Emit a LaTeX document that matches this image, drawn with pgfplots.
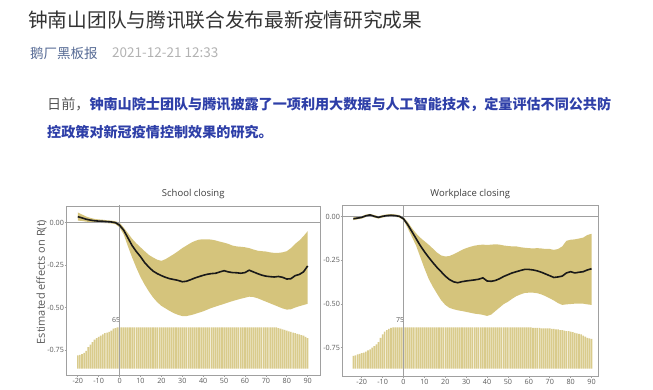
\documentclass[border=0pt]{standalone}
\usepackage{pgfplots}
\usepackage{pgfplotstable}
\pgfplotsset{compat=1.18}
\usepgfplotslibrary{fillbetween}
\usepackage{fontspec}
\setmainfont{Open Sans}
\newfontfamily\cjk{Noto Sans CJK SC}
\definecolor{titlec}{HTML}{333333}
\definecolor{srcc}{HTML}{576B95}
\definecolor{datec}{HTML}{B2B2B2}
\definecolor{parag}{HTML}{555555}
\definecolor{parab}{HTML}{2E3FA8}
\definecolor{bandc}{HTML}{D5C47C}
\definecolor{barc}{HTML}{D9CB8C}
\definecolor{axc}{HTML}{A0A0A0}
\definecolor{tickc}{HTML}{5A5A5A}
\definecolor{titc}{HTML}{3C3C3C}

\pgfplotstableread{
x up mid lo
-20 0.060 0.035 0.012
-18 0.048 0.028 0.010
-16 0.036 0.020 0.006
-14 0.028 0.015 0.003
-12 0.022 0.011 0.001
-10 0.019 0.009 -0.001
-8 0.017 0.008 -0.002
-6 0.014 0.006 -0.003
-4 0.012 0.004 -0.005
-2 0.008 0.000 -0.009
0 0.000 -0.015 -0.028
2 -0.030 -0.045 -0.070
4 -0.062 -0.090 -0.140
6 -0.095 -0.135 -0.205
8 -0.122 -0.170 -0.265
10 -0.145 -0.200 -0.320
12 -0.168 -0.235 -0.365
14 -0.190 -0.262 -0.405
16 -0.205 -0.285 -0.440
18 -0.218 -0.300 -0.468
20 -0.225 -0.312 -0.490
22 -0.215 -0.322 -0.505
24 -0.200 -0.330 -0.520
26 -0.185 -0.335 -0.533
28 -0.168 -0.340 -0.543
30 -0.150 -0.348 -0.550
32 -0.135 -0.345 -0.550
34 -0.120 -0.336 -0.545
36 -0.108 -0.326 -0.538
38 -0.100 -0.318 -0.530
40 -0.098 -0.310 -0.522
42 -0.098 -0.304 -0.512
44 -0.100 -0.300 -0.502
46 -0.105 -0.298 -0.494
48 -0.112 -0.290 -0.486
50 -0.118 -0.283 -0.478
52 -0.125 -0.290 -0.470
54 -0.135 -0.294 -0.462
56 -0.140 -0.295 -0.455
58 -0.142 -0.298 -0.448
60 -0.145 -0.294 -0.442
62 -0.150 -0.280 -0.436
64 -0.158 -0.290 -0.438
66 -0.165 -0.300 -0.445
68 -0.168 -0.309 -0.455
70 -0.170 -0.315 -0.465
72 -0.175 -0.318 -0.475
74 -0.178 -0.320 -0.485
76 -0.178 -0.317 -0.495
78 -0.175 -0.322 -0.505
80 -0.168 -0.332 -0.512
82 -0.150 -0.330 -0.510
84 -0.125 -0.312 -0.500
86 -0.105 -0.305 -0.492
88 -0.080 -0.290 -0.485
90 -0.050 -0.255 -0.478
}\leftdata

\pgfplotstableread{
x up mid lo
-24 -0.004 -0.012 -0.020
-22 -0.001 -0.008 -0.015
-20 0.003 -0.004 -0.011
-18 0.012 0.005 -0.002
-16 0.016 0.010 0.002
-14 0.009 0.002 -0.005
-12 0.003 -0.004 -0.011
-10 0.009 0.002 -0.005
-8 0.013 0.006 -0.001
-6 0.015 0.008 0.001
-4 0.013 0.006 -0.001
-2 0.009 0.002 -0.005
0 -0.004 -0.012 -0.020
2 -0.030 -0.045 -0.065
4 -0.065 -0.085 -0.115
6 -0.095 -0.125 -0.165
8 -0.120 -0.165 -0.230
10 -0.140 -0.200 -0.295
12 -0.160 -0.232 -0.355
14 -0.182 -0.262 -0.400
16 -0.205 -0.290 -0.440
18 -0.222 -0.315 -0.478
20 -0.228 -0.340 -0.505
22 -0.225 -0.360 -0.522
24 -0.215 -0.373 -0.530
26 -0.203 -0.378 -0.536
28 -0.190 -0.372 -0.540
30 -0.180 -0.368 -0.545
32 -0.172 -0.365 -0.550
34 -0.166 -0.362 -0.555
36 -0.162 -0.358 -0.558
38 -0.160 -0.350 -0.562
40 -0.162 -0.368 -0.568
42 -0.160 -0.370 -0.560
44 -0.158 -0.365 -0.540
46 -0.160 -0.355 -0.520
48 -0.165 -0.342 -0.500
50 -0.168 -0.332 -0.487
52 -0.170 -0.322 -0.470
54 -0.170 -0.315 -0.455
56 -0.175 -0.308 -0.445
58 -0.178 -0.302 -0.437
60 -0.180 -0.302 -0.435
62 -0.182 -0.305 -0.435
64 -0.180 -0.310 -0.438
66 -0.182 -0.318 -0.445
68 -0.185 -0.328 -0.455
70 -0.185 -0.338 -0.467
72 -0.190 -0.348 -0.480
74 -0.185 -0.345 -0.495
76 -0.170 -0.340 -0.505
78 -0.138 -0.322 -0.502
80 -0.132 -0.315 -0.500
82 -0.130 -0.322 -0.498
84 -0.125 -0.318 -0.497
86 -0.120 -0.315 -0.498
88 -0.105 -0.305 -0.502
90 -0.098 -0.298 -0.505
}\rightdata

\pgfplotsset{
  mainax/.style={
    scale only axis, clip=true,
    tick pos=left, tick align=outside, major tick length=1.8pt,
    axis line style={draw=axc, line width=0.7pt},
    tick style={draw=axc, line width=0.6pt},
    ticklabel style={font=\fontsize{7.2}{8}\selectfont, text=tickc},
    xticklabel style={inner sep=1.2pt},
    yticklabel style={inner sep=0.6pt},
    xtick={-20,-10,0,10,20,30,40,50,60,70,80,90},
    xticklabels={-20,-10,0,10,20,30,40,50,60,70,80,90},
    ytick={-0.75,-0.5,-0.25,0},
    yticklabels={-0.75,-0.50,-0.25,0.00},
    title style={font=\fontsize{9.5}{10}\selectfont, text=titc, inner sep=0.6pt},
  },
  barax/.style={scale only axis, hide axis, clip=true},
}

\begin{document}
\begin{tikzpicture}
% ---- header text ----
\node[anchor=west, inner sep=0pt, text=titlec] at (28pt,369pt)
  {\cjk\fontsize{19.7}{22}\selectfont 钟南山团队与腾讯联合发布最新疫情研究成果};
\node[anchor=west, inner sep=0pt, text=srcc] at (30pt,336pt)
  {\cjk\fontsize{13.5}{15}\selectfont 鹅厂黑板报};
\node[anchor=west, inner sep=0pt, text=datec] at (112pt,336pt)
  {\cjk\fontsize{13.5}{15}\selectfont 2021-12-21 12:33};
\node[anchor=west, inner sep=0pt] at (47pt,285pt)
  {\cjk\fontsize{14.1}{16}\selectfont\textcolor{parag}{日前，}{\bfseries\color{parab}钟南山院士团队与腾讯披露了一项利用大数据与人工智能技术，定量评估不同公共防}};
\node[anchor=west, inner sep=0pt] at (47pt,257pt)
  {\cjk\fontsize{14.1}{16}\selectfont\bfseries\color{parab}控政策对新冠疫情控制效果的研究。};

% ---- left chart: bars (region counts) ----
\begin{axis}[barax, at={(66.5pt,14pt)}, anchor=south west, width=253.5pt, height=169pt,
  xmin=-25.4, xmax=95.9, ymin=-9.9, ymax=256.3]
\addplot[ybar, bar width=0.75, fill=barc, draw=none] coordinates {
(-20,21)(-19,22)(-18,23)(-17,25)(-16,28)(-15,34)(-14,38)(-13,42)(-12,46)(-11,48)
(-10,50)(-9,52)(-8,54)(-7,56)(-6,57)(-5,58)(-4,60)(-3,63)(-2,64)(-1,65)
(0,65)(1,65)(2,65)(3,65)(4,65)(5,65)(6,65)(7,65)(8,65)(9,65)
(10,65)(11,65)(12,65)(13,65)(14,65)(15,65)(16,65)(17,65)(18,65)(19,65)
(20,65)(21,65)(22,65)(23,65)(24,65)(25,65)(26,65)(27,65)(28,65)(29,65)
(30,65)(31,65)(32,65)(33,65)(34,65)(35,65)(36,65)(37,65)(38,65)(39,65)
(40,65)(41,65)(42,65)(43,65)(44,65)(45,65)(46,65)(47,65)(48,65)(49,65)
(50,65)(51,65)(52,65)(53,65)(54,65)(55,65)(56,65)(57,65)(58,65)(59,65)
(60,65)(61,65)(62,65)(63,65)(64,65)(65,65)(66,65)(67,65)(68,65)(69,65)
(70,65)(71,65)(72,65)(73,65)(74,65)(75,65)(76,64)(77,63)(78,62)(79,61)
(80,60)(81,59)(82,58)(83,57)(84,56)(85,55)(86,54)(87,53)(88,52)(89,50)(90,48)
};
\node[anchor=south east, inner sep=0pt, font=\fontsize{7}{8}\selectfont, text=tickc] at (axis cs:0.4,72) {65};
\end{axis}

% ---- left chart: main ----
\begin{axis}[mainax, at={(66.5pt,14pt)}, anchor=south west, width=253.5pt, height=169pt,
  xmin=-25.4, xmax=95.9, ymin=-0.897, ymax=0.098,
  title={School closing},
  ylabel={Estimated effects on R(t)},
  ylabel style={font=\fontsize{11}{12}\selectfont, text=tickc, at={(axis description cs:-0.098,0.55)}, anchor=center}]
\addplot[axc, line width=0.6pt] coordinates {(0,-1) (0,1)};
\addplot[axc, line width=0.6pt] coordinates {(-40,0) (120,0)};
\addplot[name path=lup, draw=none] table[x=x, y=up] {\leftdata};
\addplot[name path=llo, draw=none] table[x=x, y=lo] {\leftdata};
\addplot[bandc, draw=none] fill between[of=lup and llo];
\addplot[black!90, line width=1.6pt] table[x=x, y=mid] {\leftdata};
\end{axis}

% ---- right chart: bars ----
\begin{axis}[barax, at={(342.5pt,13pt)}, anchor=south west, width=255.5pt, height=170.5pt,
  xmin=-29.2, xmax=93.1, ymin=-13.3, ymax=295.6]
\addplot[ybar, bar width=0.75, fill=barc, draw=none] coordinates {
(-24,23)(-23,24)(-22,26)(-21,27)(-20,28)(-19,29)(-18,31)(-17,33)(-16,35)(-15,38)
(-14,41)(-13,44)(-12,48)(-11,56)(-10,62)(-9,67)(-8,70)(-7,72)(-6,74)
(-5,75)(-4,75)(-3,75)(-2,75)(-1,75)
(0,75)(1,75)(2,75)(3,75)(4,75)(5,75)(6,75)(7,75)(8,75)(9,75)
(10,75)(11,75)(12,75)(13,75)(14,75)(15,75)(16,75)(17,75)(18,75)(19,75)
(20,75)(21,75)(22,75)(23,75)(24,75)(25,75)(26,75)(27,75)(28,75)(29,75)
(30,75)(31,75)(32,75)(33,75)(34,75)(35,75)(36,75)(37,75)(38,75)(39,75)
(40,75)(41,75)(42,75)(43,75)(44,75)(45,75)(46,75)(47,75)(48,75)(49,75)
(50,75)(51,75)(52,75)(53,75)(54,75)(55,75)(56,75)(57,75)(58,75)(59,75)
(60,75)(61,75)(62,74)(63,74)(64,74)(65,74)(66,73)(67,73)(68,73)(69,73)
(70,73)(71,72)(72,72)(73,71)(74,71)(75,70)(76,70)(77,69)(78,68)(79,68)
(80,67)(81,66)(82,65)(83,64)(84,63)(85,62)(86,60)(87,58)(88,56)(89,55)(90,54)
};
\node[anchor=south east, inner sep=0pt, font=\fontsize{7}{8}\selectfont, text=tickc] at (axis cs:0.4,83) {75};
\end{axis}

% ---- right chart: main ----
\begin{axis}[mainax, at={(342.5pt,13pt)}, anchor=south west, width=255.5pt, height=170.5pt,
  xmin=-29.2, xmax=93.1, ymin=-0.912, ymax=0.064,
  title={Workplace closing}]
\addplot[axc, line width=0.6pt] coordinates {(0,-1) (0,1)};
\addplot[axc, line width=0.6pt] coordinates {(-40,0) (120,0)};
\addplot[name path=rup, draw=none] table[x=x, y=up] {\rightdata};
\addplot[name path=rlo, draw=none] table[x=x, y=lo] {\rightdata};
\addplot[bandc, draw=none] fill between[of=rup and rlo];
\addplot[black!90, line width=1.6pt] table[x=x, y=mid] {\rightdata};
\end{axis}

\pgfresetboundingbox
\path[use as bounding box] (0pt,0pt) rectangle (653pt,389pt);
\end{tikzpicture}
\end{document}
